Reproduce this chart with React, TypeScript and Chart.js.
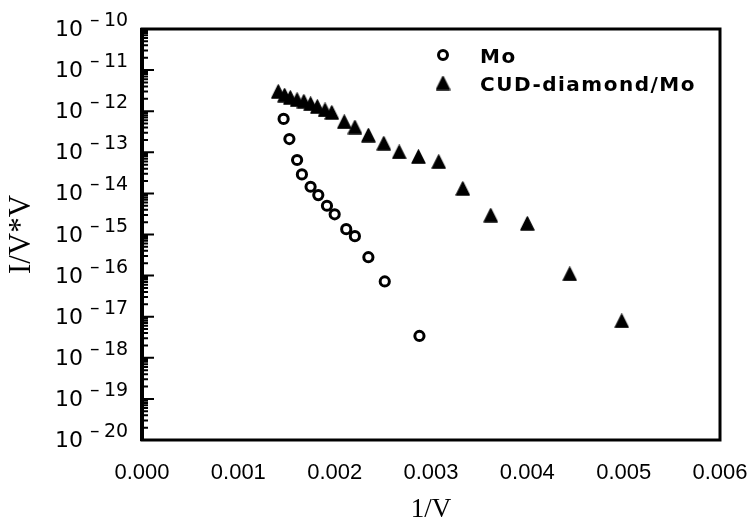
import React, { useEffect, useRef } from "react";
import { Chart, registerables } from "chart.js";

Chart.register(...registerables);

// Fowler–Nordheim style plot: I/V*V against 1/V for two emitters.
const seriesLabels = ["Mo", "CUD-diamond/Mo"];

const moInvV = [
  0.00147, 0.00153, 0.00161, 0.00166, 0.00175, 0.00183, 0.00192, 0.002,
  0.00212, 0.00221, 0.00235, 0.00252, 0.00288,
];
const moValue = [
  6.5e-13, 2.1e-13, 6.5e-14, 2.9e-14, 1.45e-14, 9.1e-15, 5.0e-15, 3.1e-15,
  1.35e-15, 9.1e-16, 2.8e-16, 7.2e-17, 3.4e-18,
];

const cvdInvV = [
  0.001415, 0.00148, 0.00154, 0.00161, 0.00168, 0.00175, 0.00182, 0.0019,
  0.00197, 0.0021, 0.00221, 0.00235, 0.00251, 0.00267, 0.00287, 0.00308,
  0.00333, 0.00362, 0.004, 0.00444, 0.00498,
];
const cvdValue = [
  3.0e-12, 2.45e-12, 2.14e-12, 1.9e-12, 1.74e-12, 1.51e-12, 1.29e-12,
  1.07e-12, 9.3e-13, 5.5e-13, 4.1e-13, 2.6e-13, 1.66e-13, 1.02e-13, 7.8e-14,
  5.9e-14, 1.32e-14, 2.95e-15, 1.86e-15, 1.1e-16, 7.9e-18,
];

const xTickValues = [0, 0.001, 0.002, 0.003, 0.004, 0.005, 0.006];
const yDecades = [-10, -11, -12, -13, -14, -15, -16, -17, -18, -19, -20];

function makeTriangle(size: number): HTMLCanvasElement {
  const c = document.createElement("canvas");
  c.width = size;
  c.height = size;
  const g = c.getContext("2d")!;
  g.fillStyle = "#000";
  g.strokeStyle = "#000";
  g.lineWidth = 1.5;
  g.lineJoin = "round";
  g.beginPath();
  g.moveTo(size / 2, 1);
  g.lineTo(size - 1, size - 1);
  g.lineTo(1, size - 1);
  g.closePath();
  g.fill();
  g.stroke();
  return c;
}

function makeFramePlugin(tri: HTMLCanvasElement) {
  return {
    id: "frameTicksLegend",
    afterDraw(chart: any) {
      const { ctx, chartArea: a, scales } = chart;
      const y = scales.y;
      ctx.save();
      ctx.strokeStyle = "#000";
      ctx.fillStyle = "#000";

      // inward ticks on the left axis: majors at each decade, minors 2..9
      ctx.lineWidth = 2;
      ctx.beginPath();
      for (const e of yDecades) {
        const py = y.getPixelForValue(Math.pow(10, e));
        ctx.moveTo(a.left, py);
        ctx.lineTo(a.left + 12, py);
        if (e > yDecades[yDecades.length - 1]) {
          for (let k = 2; k <= 9; k++) {
            const pm = y.getPixelForValue(k * Math.pow(10, e - 1));
            ctx.moveTo(a.left, pm);
            ctx.lineTo(a.left + 6, pm);
          }
        }
      }
      ctx.stroke();

      // frame
      ctx.lineWidth = 3;
      ctx.strokeRect(a.left, a.top, a.right - a.left, a.bottom - a.top);
      ctx.lineWidth = 4;
      ctx.beginPath();
      ctx.moveTo(a.left, a.top - 1);
      ctx.lineTo(a.left, a.bottom + 1);
      ctx.stroke();

      // decade labels 10^-n
      ctx.textBaseline = "alphabetic";
      for (const e of yDecades) {
        const py = y.getPixelForValue(Math.pow(10, e));
        ctx.font = "22px 'DejaVu Sans'";
        ctx.textAlign = "right";
        ctx.fillText("10", 83, py + 7);
        ctx.font = "19px 'DejaVu Sans'";
        ctx.textAlign = "left";
        ctx.fillText("\u2013", 90, py - 3);
        ctx.fillText(String(-e), 104, py - 3);
      }

      // legend
      const lx = a.left + 301;
      ctx.lineWidth = 3;
      ctx.beginPath();
      ctx.arc(lx, a.top + 26, 4.5, 0, Math.PI * 2);
      ctx.stroke();
      ctx.drawImage(tri, lx - tri.width / 2, a.top + 54 - tri.height / 2);
      ctx.font = "bold 20px 'DejaVu Sans'";
      (ctx as any).letterSpacing = "1.5px";
      ctx.textAlign = "left";
      ctx.fillText(seriesLabels[0], a.left + 338, a.top + 34);
      ctx.fillText(seriesLabels[1], a.left + 338, a.top + 62);
      ctx.restore();
    },
  };
}

export default function App() {
  const ref = useRef<HTMLCanvasElement | null>(null);

  useEffect(() => {
    if (!ref.current) return;
    const tri = makeTriangle(15);
    const chart = new Chart(ref.current, {
      type: "scatter",
      data: {
        datasets: [
          {
            label: seriesLabels[0],
            data: moInvV.map((x, i) => ({ x, y: moValue[i] })),
            pointStyle: "circle",
            pointRadius: 4.6,
            pointBorderWidth: 3,
            pointBorderColor: "#000",
            pointBackgroundColor: "rgba(0,0,0,0)",
          },
          {
            label: seriesLabels[1],
            data: cvdInvV.map((x, i) => ({ x, y: cvdValue[i] })),
            pointStyle: tri as any,
            pointRadius: 7,
            pointBorderWidth: 0,
            pointBorderColor: "#000",
            pointBackgroundColor: "#000",
          },
        ],
      },
      options: {
        responsive: false,
        animation: false,
        events: [],
        layout: { padding: { left: 0, top: 29, right: 35, bottom: 0 } },
        plugins: { legend: { display: false }, tooltip: { enabled: false } },
        scales: {
          x: {
            type: "linear",
            min: 0,
            max: 0.006,
            afterBuildTicks: (s: any) => {
              s.ticks = xTickValues.map((v) => ({ value: v }));
            },
            afterFit: (s: any) => {
              s.height = 87;
              s.paddingLeft = 0;
              s.paddingRight = 0;
            },
            ticks: {
              callback: (v: any) => Number(v).toFixed(3),
              font: { family: "'Liberation Sans'", size: 22 },
              color: "#000",
              padding: 20,
              maxRotation: 0,
              autoSkip: false,
            },
            grid: { display: false, drawTicks: false },
            border: { display: false },
            title: {
              display: true,
              text: "1/V",
              color: "#000",
              font: { family: "'Liberation Serif'", size: 27 },
              padding: { top: 0, bottom: 1 },
            },
          },
          y: {
            type: "logarithmic",
            min: 1e-20,
            max: 1e-10,
            afterFit: (s: any) => {
              s.width = 142;
            },
            ticks: { display: false },
            grid: { display: false, drawTicks: false },
            border: { display: false },
            title: {
              display: true,
              text: "I/V*V",
              color: "#000",
              font: { family: "'Liberation Serif'", size: 31 },
              padding: { top: 3, bottom: 0 },
            },
          },
        },
      },
      plugins: [makeFramePlugin(tri)],
    });
    return () => chart.destroy();
  }, []);

  return (
    <div style={{ position: "absolute", left: 0, top: 0, background: "#fff" }}>
      <canvas ref={ref} width={755} height={527} style={{ display: "block" }} />
    </div>
  );
}
